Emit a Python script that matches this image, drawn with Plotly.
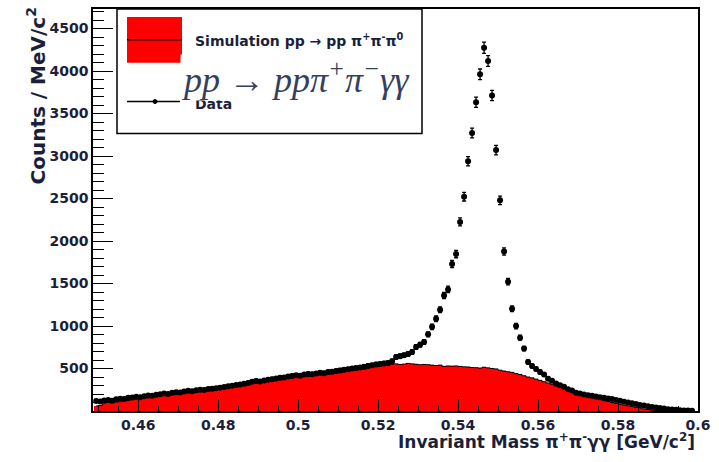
import numpy as np
import plotly.graph_objects as go

# Bin centres of the 1 MeV/c^2 invariant-mass histogram [GeV/c^2]
mass = [round(0.4495 + 0.001 * i, 4) for i in range(150)]

# Measured counts per bin
data_counts = [
    118, 112, 125, 130, 122, 138, 145, 140, 155, 160,
    168, 162, 175, 182, 178, 190, 198, 205, 200, 215,
    222, 218, 230, 238, 232, 245, 250, 248, 258, 262,
    268, 275, 282, 290, 298, 305, 312, 320, 330, 345,
    352, 348, 360, 368, 375, 382, 390, 395, 405, 412,
    420, 415, 428, 435, 432, 442, 450, 445, 458, 462,
    470, 478, 485, 492, 500, 505, 512, 520, 530, 538,
    548, 552, 560, 565, 585, 636, 645, 656, 670, 694,
    753, 780, 812, 902, 990, 1085, 1191, 1358, 1431, 1729,
    1846, 2225, 2521, 2939, 3270, 3633, 3961, 4274, 4118, 3712,
    3070, 2479, 1877, 1522, 1203, 999, 863, 734, 577, 530,
    495, 460, 430, 380, 355, 325, 304, 285, 255, 240,
    215, 205, 195, 185, 178, 170, 162, 155, 148, 140,
    130, 120, 110, 100, 92, 82, 72, 64, 56, 48,
    40, 34, 28, 22, 18, 14, 10, 7, 5, 3,
]

# Simulated pp -> pp pi+ pi- pi0 counts per bin
sim_counts = [
    60, 65, 95, 100, 98, 105, 110, 120, 125, 135,
    140, 148, 150, 160, 165, 170, 178, 185, 190, 195,
    205, 210, 215, 222, 228, 232, 240, 245, 250, 258,
    262, 270, 278, 285, 292, 300, 308, 315, 325, 335,
    342, 350, 358, 365, 372, 380, 388, 395, 402, 410,
    430, 440, 445, 450, 445, 450, 455, 462, 470, 468,
    475, 478, 485, 490, 498, 505, 510, 515, 522, 530,
    545, 540, 548, 550, 552, 555, 548, 552, 560, 555,
    550, 545, 548, 545, 540, 535, 540, 525, 530, 528,
    530, 525, 520, 518, 512, 510, 505, 515, 508, 500,
    495, 480, 470, 462, 455, 440, 430, 415, 400, 390,
    375, 360, 345, 330, 315, 295, 280, 262, 245, 228,
    210, 195, 182, 170, 158, 145, 135, 122, 112, 100,
    90, 80, 70, 62, 52, 42, 35, 25, 18, 10,
    6, 3, 0, 0, 0, 0, 0, 0, 0, 0,
]

x_ticks = [0.46, 0.48, 0.50, 0.52, 0.54, 0.56, 0.58, 0.60]
x_tick_text = ["0.46", "0.48", "0.5", "0.52", "0.54", "0.56", "0.58", "0.6"]
y_ticks = [500, 1000, 1500, 2000, 2500, 3000, 3500, 4000, 4500]
y_tick_text = [str(v) for v in y_ticks]

BIN_WIDTH = 0.001
TEXT = "#1b1f3b"
TICK_FONT = dict(family="DejaVu Sans", size=14, color=TEXT, weight="bold")

W, H = 719, 462
L, R, T, B = 93, 21, 7, 51
PW, PH = W - L - R, H - T - B


def px(xp):
    return (xp - L) / PW


def py(yp):
    return (H - B - yp) / PH


fig = go.Figure()

# Simulation: red filled histogram with black step outline
fig.add_trace(go.Bar(
    x=mass, y=sim_counts, width=BIN_WIDTH,
    marker=dict(color="#ff0000", line=dict(width=0)),
    showlegend=False, hoverinfo="skip",
))
fig.add_trace(go.Scatter(
    x=mass, y=sim_counts, mode="lines", line=dict(shape="hvh", color="black", width=1),
    showlegend=False, hoverinfo="skip",
))

# Data points with Poisson error bars
fig.add_trace(go.Scatter(
    x=mass, y=data_counts, mode="markers",
    marker=dict(color="black", size=6),
    error_y=dict(type="data", array=np.sqrt(data_counts), color="black",
                 thickness=1.3, width=2),
    showlegend=False,
))

axis_common = dict(
    showline=True, linecolor="black", linewidth=1.5, mirror=True,
    showgrid=False, zeroline=False, ticks="inside", tickcolor="black",
    tickwidth=1.2, tickfont=TICK_FONT, tickmode="array",
)

fig.update_layout(
    width=W, height=H,
    margin=dict(l=L, r=R, t=T, b=B),
    paper_bgcolor="white", plot_bgcolor="white",
    bargap=0,
    xaxis=dict(
        axis_common, range=[0.4487, 0.6], tickvals=x_ticks, ticktext=x_tick_text,
        ticklen=12,
        minor=dict(tickmode="linear", tick0=0.46, dtick=0.005, ticks="inside",
                   ticklen=5, tickcolor="black", tickwidth=1.2),
    ),
    yaxis=dict(
        axis_common, range=[0, 4730], tickvals=y_ticks, ticktext=y_tick_text,
        ticklen=20,
        minor=dict(tickmode="linear", tick0=0, dtick=100, ticks="inside",
                   ticklen=11, tickcolor="black", tickwidth=1.2),
    ),
)

shapes = [
    # legend frame
    dict(type="rect", xref="paper", yref="paper", x0=px(117), x1=px(422),
         y0=py(132), y1=py(7), line=dict(color="black", width=1.5),
         fillcolor="white", layer="above"),
    # simulation swatch
    dict(type="rect", xref="paper", yref="paper", x0=px(127), x1=px(182),
         y0=py(61), y1=py(15), line=dict(width=0), fillcolor="#ff0000", layer="above"),
    dict(type="line", xref="paper", yref="paper", x0=px(127), x1=px(182),
         y0=py(38), y1=py(38), line=dict(color="black", width=1.5), layer="above"),
    # data swatch
    dict(type="line", xref="paper", yref="paper", x0=px(127), x1=px(180),
         y0=py(100), y1=py(100), line=dict(color="black", width=1.5), layer="above"),
    dict(type="circle", xref="paper", yref="paper", x0=px(153), x1=px(157),
         y0=py(102), y1=py(98), line=dict(color="black", width=1),
         fillcolor="black", layer="above"),
]

formula = ("pp <span style='font-style:normal'>\u2192</span> "
           "pp\u03c0<sup>+</sup>\u03c0<sup>\u2212</sup>\u03b3\u03b3")

annotations = [
    dict(xref="paper", yref="paper", x=px(193), y=py(38), xanchor="left", yanchor="middle",
         text="Simulation pp \u2192 pp \u03c0<sup>+</sup>\u03c0<sup>-</sup>\u03c0<sup>0</sup>",
         showarrow=False, font=dict(family="DejaVu Sans", size=14, color=TEXT, weight="bold")),
    dict(xref="paper", yref="paper", x=px(193), y=py(102), xanchor="left", yanchor="middle",
         text="Data", showarrow=False,
         font=dict(family="DejaVu Sans", size=14, color=TEXT, weight="bold")),
    dict(xref="paper", yref="paper", x=px(180), y=py(99), xanchor="left", yanchor="bottom",
         text=formula, showarrow=False, bgcolor="white", borderpad=0,
         font=dict(family="Liberation Serif", size=36, color="#34405e", style="italic")),
    # axis titles
    dict(xref="paper", yref="paper", x=px(697), y=py(441), xanchor="right", yanchor="middle",
         text="Invariant Mass \u03c0<sup>+</sup>\u03c0<sup>-</sup>\u03b3\u03b3 [GeV/c<sup>2</sup>]",
         showarrow=False, font=dict(family="DejaVu Sans", size=17, color=TEXT, weight="bold")),
    dict(xref="paper", yref="paper", x=px(36), y=py(4), xanchor="center", yanchor="top",
         textangle=-90, text="Counts / MeV/c<sup>2</sup>", showarrow=False,
         font=dict(family="DejaVu Sans", size=20, color=TEXT, weight="bold")),
]

fig.update_layout(shapes=shapes, annotations=annotations)

fig.write_html("out.html")
